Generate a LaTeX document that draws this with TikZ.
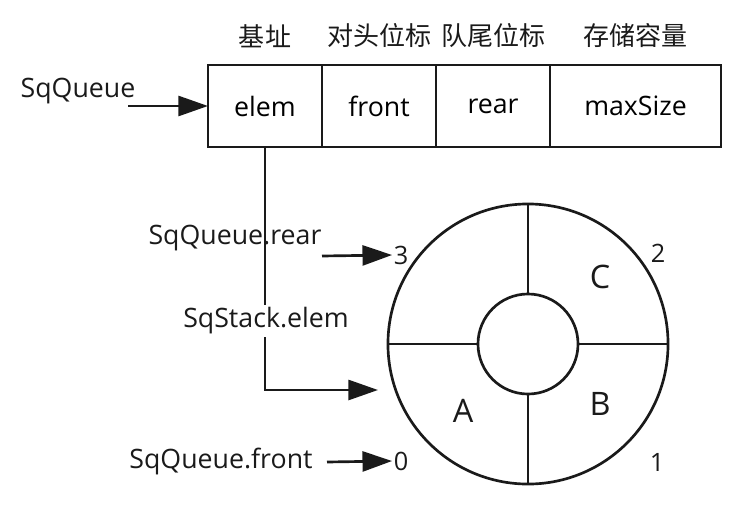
\documentclass[tikz,border=0pt]{standalone}
\usepackage{fontspec}
\setmainfont{Open Sans}
\newfontfamily\cjk{Noto Sans CJK SC}
\usetikzlibrary{positioning,arrows.meta}
\definecolor{sqInk}{HTML}{1A1A1A}
\tikzset{
    sqCell/.style={
        rectangle,
        draw=sqInk,
        line width=1.9pt,
        minimum height=2.05cm,
        minimum width=2.85cm,
        outer sep=0pt,
        inner sep=0pt,
        font=\fontsize{19}{23}\selectfont
    },
    sqHead/.style={
        font=\cjk\fontsize{18.5}{22}\selectfont,
        text=sqInk,
        inner sep=2pt
    },
    % Pointer labels and indices
    sqLabel/.style={font=\fontsize{19}{23}\selectfont, text=sqInk, inner sep=2pt},
    sqIdx/.style={font=\fontsize{18}{22}\selectfont, text=sqInk, inner sep=1pt},
    sqSlot/.style={font=\fontsize{23}{27}\selectfont, text=sqInk},
    % Ring buffer
    sqRing/.style={circle, draw=sqInk, line width=1.9pt, minimum size=7cm, inner sep=0pt, outer sep=0pt},
    sqHub/.style={circle, draw=sqInk, line width=1.9pt, minimum size=2.5cm, inner sep=0pt, outer sep=0pt},
    sqLine/.style={draw=sqInk, line width=1.9pt},
    % Arrows
    sqArrow/.style={sqLine, -{Triangle[length=0.74cm,width=0.5cm]}}
}

\begin{document}
\begin{tikzpicture}[x=0.025cm,y=-0.025cm]
\useasboundingbox (0,0) rectangle (736,506);

% the SqQueue struct
\node[sqCell] (elem) at (265,106) {elem};
\node[sqCell, right=0pt of elem] (front) {front};
\node[sqCell, right=0pt of front] (rear) {rear};
\node[sqCell, right=0pt of rear, minimum width=4.275cm] (maxsize) {maxSize};

\node[sqHead, above=10pt of elem] (hElem) {基址};
\node[sqHead, above=10pt of front] (hFront) {对头位标};
\node[sqHead, above=10pt of rear] (hRear) {队尾位标};
\node[sqHead, above=10pt of maxsize] (hMax) {存储容量};

\node[sqLabel] (qName) at (78,91) {SqQueue};
\coordinate (qFrom) at (128,106);
\draw[sqArrow] (qFrom) -- (elem.west);

% the ring
\node[sqRing] (ring) at (528,344) {};
\node[sqHub] (hub) at (528,344) {};
\draw[sqLine] (ring.north) -- (hub.north);
\draw[sqLine] (ring.south) -- (hub.south);
\draw[sqLine] (ring.west) -- (hub.west);
\draw[sqLine] (ring.east) -- (hub.east);

\node[sqSlot] (slotA) at (463,411) {A};
\node[sqSlot] (slotB) at (600,404) {B};
\node[sqSlot] (slotC) at (600,277) {C};

\node[sqIdx] (idx0) at (401,461) {0};
\node[sqIdx] (idx1) at (657,462) {1};
\node[sqIdx] (idx2) at (658,253) {2};
\node[sqIdx] (idx3) at (401,255) {3};

% pointers into the ring
\coordinate (ringIn) at (378,390);
\draw[sqArrow] (elem.south) |- (ringIn);
\node[sqLabel, fill=white] (stackElem) at (266,321) {SqStack.elem};

\node[sqLabel] (rearName) at (235,238) {SqQueue.rear};
\coordinate (rearFrom) at (322,256);
\draw[sqArrow] (rearFrom) -- (idx3.west);

\node[sqLabel] (frontName) at (221,461) {SqQueue.front};
\coordinate (frontFrom) at (327,462);
\draw[sqArrow] (frontFrom) -- (idx0.west);
\end{tikzpicture}
\end{document}
